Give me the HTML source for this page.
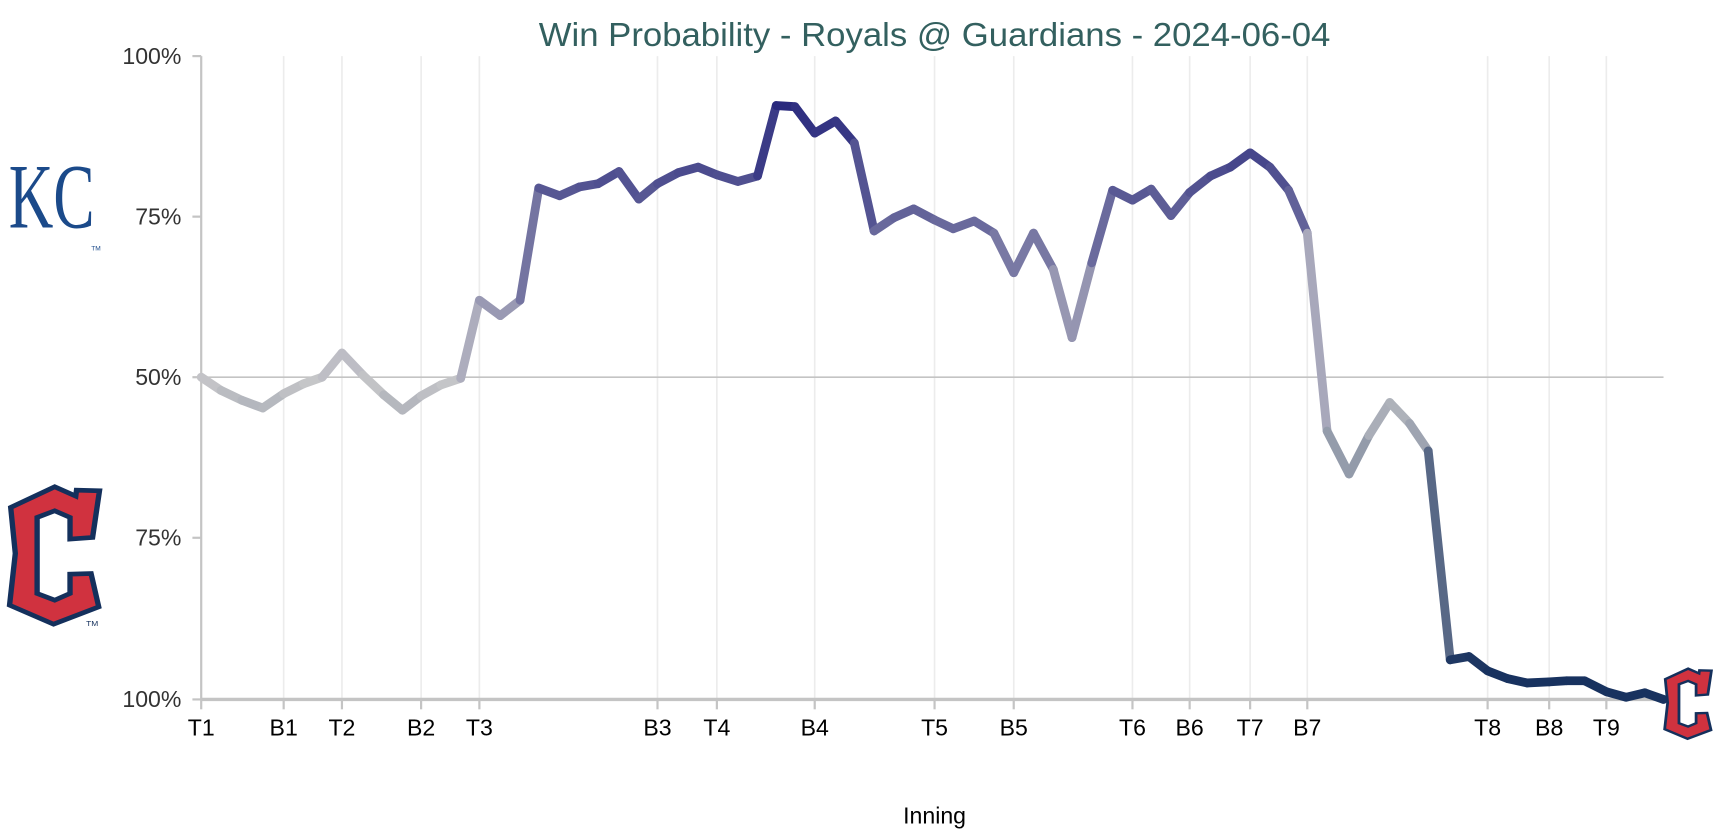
<!DOCTYPE html>
<html><head><meta charset="utf-8"><style>
html,body{margin:0;padding:0;background:#fff;}
svg{display:block;}
</style></head><body>
<svg id="s" width="1724" height="838" viewBox="0 0 1568 762" preserveAspectRatio="none" xmlns="http://www.w3.org/2000/svg">
<rect width="1568" height="762" fill="#fff"/>
<g id="grid" stroke="#ececec" stroke-width="1.5"></g>
<line x1="183" y1="343" x2="1513" y2="343" stroke="#c4c4c4" stroke-width="1.5"/>
<line x1="183" y1="51" x2="183" y2="636" stroke="#c4c4c4" stroke-width="2"/>
<line x1="183" y1="636" x2="1513" y2="636" stroke="#c4c4c4" stroke-width="3"/>
<g stroke="#c4c4c4" stroke-width="2">
<line x1="175" y1="51" x2="183" y2="51"/><line x1="175" y1="197" x2="183" y2="197"/>
<line x1="175" y1="343" x2="183" y2="343"/><line x1="175" y1="489" x2="183" y2="489"/>
<line x1="175" y1="636" x2="183" y2="636"/>
</g>
<g font-family="'Liberation Sans Narrow','Liberation Sans',sans-serif" font-size="21" fill="#333" text-anchor="end">
<text x="165" y="58">100%</text><text x="165" y="204">75%</text><text x="165" y="350">50%</text>
<text x="165" y="496">75%</text><text x="165" y="643">100%</text>
</g>
<g id="xt" font-family="'Liberation Sans Narrow','Liberation Sans',sans-serif" font-size="21" fill="#000" text-anchor="middle"></g>
<text x="850" y="749" font-family="'Liberation Sans Narrow','Liberation Sans',sans-serif" font-size="21" text-anchor="middle" fill="#000">Inning</text>
<text x="850" y="42" font-family="'Liberation Sans Narrow','Liberation Sans',sans-serif" font-size="30" text-anchor="middle" fill="#33605f" textLength="720" lengthAdjust="spacingAndGlyphs">Win Probability - Royals @ Guardians - 2024-06-04</text>
<g id="line" fill="none" stroke-width="8" stroke-linecap="round" stroke-linejoin="round"></g>
<text x="8" y="207" font-family="'Liberation Serif',serif" font-size="84" fill="#1b4a8a" textLength="78" lengthAdjust="spacingAndGlyphs">KC</text>
<text x="83" y="228" font-family="'Liberation Sans',sans-serif" font-size="6" fill="#1b4a8a">TM</text>
<g transform="translate(0,382) scale(0.348,0.3032)">
<path d="M28,262 L143,200 L198,228 L200,210 L260,212 L242,352 L183,357 L183,292 L143,272 L97,292 L97,520 L143,540 L183,520 L183,462 L238,460 L258,560 L140,612 L25,555 L40,400 Z" fill="#d0323f" stroke="#14305c" stroke-width="14" stroke-linejoin="miter"/>
<text x="225" y="617" font-family="'Liberation Sans',sans-serif" font-size="22" fill="#14305c">TM</text>
</g>
<g transform="translate(1509.5,577) scale(0.181,0.155)">
<path d="M28,262 L143,200 L198,228 L200,210 L260,212 L242,352 L183,357 L183,292 L143,272 L97,292 L97,520 L143,540 L183,520 L183,462 L238,460 L258,560 L140,612 L25,555 L40,400 Z" fill="#d0323f" stroke="#14305c" stroke-width="14"/>
</g>
</svg>
<script>
var NS="http://www.w3.org/2000/svg";
var ticks=[["T1",183],["B1",258],["T2",311],["B2",383],["T3",436],["B3",598],["T4",652],["B4",741],["T5",850],["B5",922],["T6",1030],["B6",1082],["T7",1137],["B7",1189],["T8",1353],["B8",1409],["T9",1461]];
var g=document.getElementById("grid"),xt=document.getElementById("xt");
ticks.forEach(function(t){
 if(t[1]>183){var l=document.createElementNS(NS,"line");l.setAttribute("x1",t[1]);l.setAttribute("x2",t[1]);l.setAttribute("y1",51);l.setAttribute("y2",636);g.appendChild(l);}
 var k=document.createElementNS(NS,"line");k.setAttribute("x1",t[1]);k.setAttribute("x2",t[1]);k.setAttribute("y1",636);k.setAttribute("y2",645);k.setAttribute("stroke","#c4c4c4");k.setAttribute("stroke-width","2");document.getElementById("s").insertBefore(k,xt);
 var tx=document.createElementNS(NS,"text");tx.setAttribute("x",t[1]);tx.setAttribute("y",669);tx.textContent=t[0];xt.appendChild(tx);
});
var P=[[183,343],[201,355],[220,364],[239,371],[258,358],[276,349],[293,343],[311,321],[330,341],[349,359],[366,373],[383,360],[401,350],[419,344],[436,273],[455,287],[473,273],[490,171],[509,178],[527,170],[544,167],[563,156],[581,181],[598,167],[617,157],[635,152],[652,159],[671,165],[689,160],[706,96],[723,97],[741,121],[760,110],[777,130],[795,210],[813,198],[831,190],[850,200],[867,208],[886,201],[904,212],[922,248],[940,212],[958,245],[975,307],[993,239],[1012,173],[1030,182],[1047,172],[1065,196],[1082,175],[1101,160],[1119,152],[1137,139],[1155,152],[1172,173],[1189,212],[1207,392],[1227,431],[1245,396],[1264,366],[1282,385],[1299,410],[1319,600],[1336,597],[1353,610],[1371,617],[1389,621],[1409,620],[1425,619],[1441,619],[1461,629],[1479,634],[1496,630],[1513,636]];
function col(y){var v=(636-y)/585;var d=Math.min(1,Math.abs(v-0.5)*2*1.1);var a=[200,200,202];var b=v>0.5?[30,30,120]:[24,50,95];
 var c=a.map(function(x,i){return Math.round(x+(b[i]-x)*Math.pow(d,0.9));});return "rgb("+c.join(",")+")";}
var L=document.getElementById("line");
for(var i=0;i<P.length-1;i++){var p=document.createElementNS(NS,"line");p.setAttribute("x1",P[i][0]);p.setAttribute("y1",P[i][1]);p.setAttribute("x2",P[i+1][0]);p.setAttribute("y2",P[i+1][1]);p.setAttribute("stroke",col((P[i][1]+P[i+1][1])/2));L.appendChild(p);}
</script>
</body></html>
